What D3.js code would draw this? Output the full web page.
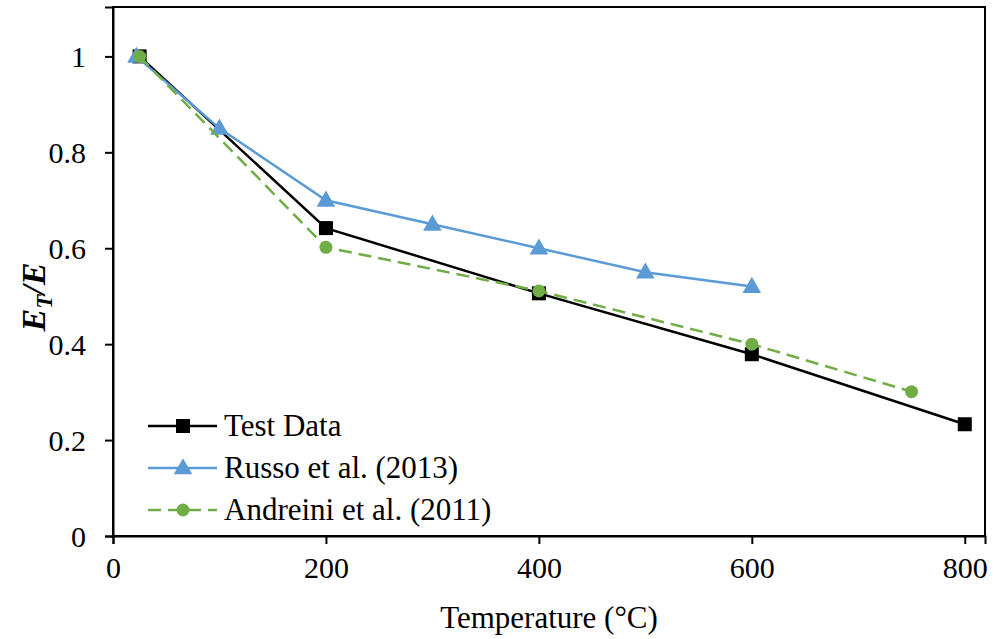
<!DOCTYPE html>
<html>
<head>
<meta charset="utf-8">
<script src="https://cdn.jsdelivr.net/npm/d3@7"></script>
<style>
  body { margin: 0; background: #fff; }
  text { font-family: "Liberation Serif", "Times New Roman", serif; fill: #000; }
</style>
</head>
<body>
<script>
/******************************************************************************/
/* DATA                                                                       */
/******************************************************************************/
var testTemps    = [25, 200, 400, 600, 800];
var testValues   = [1.0, 0.642, 0.506, 0.379, 0.233];
var russoTemps   = [22, 100, 200, 300, 400, 500, 600];
var russoValues  = [1.0, 0.85, 0.70, 0.65, 0.60, 0.55, 0.52];
var andrTemps    = [25, 200, 400, 600, 750];
var andrValues   = [1.0, 0.602, 0.511, 0.40, 0.301];
var xTicks       = [0, 200, 400, 600, 800];
var yTicks       = [0, 0.2, 0.4, 0.6, 0.8, 1];
var seriesNames  = ["Test Data", "Russo et al. (2013)", "Andreini et al. (2011)"];

/******************************************************************************/
/* GLOBAL                                                                     */
/******************************************************************************/
var width  = 994;
var height = 639;
var margin = {left: 113, right: 9, top: 7, bottom: 103};

var zip = function(xs, ys) {
  return xs.map(function(x, i) { return {x: x, y: ys[i]}; });
};

var series = [
  {name: seriesNames[0], data: zip(testTemps, testValues),   color: "#000000", dash: null,   marker: "square"},
  {name: seriesNames[1], data: zip(russoTemps, russoValues), color: "#5B9BD5", dash: null,   marker: "triangle"},
  {name: seriesNames[2], data: zip(andrTemps, andrValues),   color: "#70AD47", dash: "13,7", marker: "circle"}
];

var x = d3.scaleLinear()
  .domain([0, 819])
  .range([margin.left, width - margin.right]);
var y = d3.scaleLinear()
  .domain([0, 1.103])
  .range([height - margin.bottom, margin.top]);

var svg = d3.select("body")
  .append("svg")
  .attr("width", width)
  .attr("height", height);

// frame
svg.append("rect")
  .attr("x", x(0)).attr("y", y(1.103))
  .attr("width", x(819) - x(0))
  .attr("height", y(0) - y(1.103))
  .attr("fill", "none")
  .attr("stroke", "#000")
  .attr("stroke-width", 2);

// axes
var xAxis = svg.append("g")
  .attr("transform", "translate(0," + y(0) + ")")
  .call(d3.axisBottom(x).tickValues(xTicks).tickSize(8).tickPadding(10).tickFormat(d3.format("d")));
var yAxis = svg.append("g")
  .attr("transform", "translate(" + x(0) + ",0)")
  .call(d3.axisLeft(y).tickValues(yTicks).tickSize(8).tickPadding(19).tickFormat(function(d) { return d3.format("")(d); }));

[xAxis, yAxis].forEach(function(ax) {
  ax.attr("font-family", null).attr("font-size", null);
  ax.select(".domain").attr("stroke", "#000").attr("stroke-width", 2);
  ax.selectAll(".tick line").attr("stroke", "#000").attr("stroke-width", 2);
  ax.selectAll(".tick text")
    .style("font-family", "'Liberation Serif', 'Times New Roman', serif")
    .style("font-size", "30px")
    .attr("fill", "#000");
});
xAxis.selectAll(".tick text").attr("dy", "0.8em");
yAxis.selectAll(".tick text").attr("dy", "0.34em");

// axis titles
svg.append("text")
  .attr("x", (x(0) + x(819)) / 2)
  .attr("y", 628)
  .attr("text-anchor", "middle")
  .attr("font-size", 31)
  .text("Temperature (°C)");

var yTitle = svg.append("text")
  .attr("transform", "translate(45,297) rotate(-90)")
  .attr("text-anchor", "middle")
  .attr("font-size", 34)
  .attr("font-weight", "bold")
  .attr("font-style", "italic");
yTitle.append("tspan").text("E");
yTitle.append("tspan").attr("font-size", 23).attr("dy", 7).text("T");
yTitle.append("tspan").attr("dy", -7).text("/E");

// lines
var line = d3.line()
  .x(function(d) { return x(d.x); })
  .y(function(d) { return y(d.y); });

var drawMarker = function(g, s, cx, cy) {
  if (s.marker === "square") {
    g.append("rect")
      .attr("x", cx - 7).attr("y", cy - 7)
      .attr("width", 14).attr("height", 14)
      .attr("fill", s.color);
  } else if (s.marker === "triangle") {
    g.append("path")
      .attr("d", d3.symbol().type(d3.symbolTriangle).size(150)())
      .attr("transform", "translate(" + cx + "," + (cy + 1) + ")")
      .attr("fill", s.color);
  } else {
    g.append("circle")
      .attr("cx", cx).attr("cy", cy).attr("r", 6.5)
      .attr("fill", s.color);
  }
};

var plots = svg.selectAll("g.series")
  .data(series)
  .enter()
  .append("g")
  .attr("class", "series");

plots.append("path")
  .attr("d", function(s) { return line(s.data); })
  .attr("fill", "none")
  .attr("stroke", function(s) { return s.color; })
  .attr("stroke-width", 2.5)
  .attr("stroke-dasharray", function(s) { return s.dash; });

plots.each(function(s) {
  var g = d3.select(this);
  s.data.forEach(function(d) { drawMarker(g, s, x(d.x), y(d.y)); });
});

// legend
var legendY = [426, 468, 510];
var legend = svg.selectAll("g.legend")
  .data(series)
  .enter()
  .append("g")
  .attr("class", "legend")
  .attr("transform", function(s, i) { return "translate(0," + legendY[i] + ")"; });

legend.append("line")
  .attr("x1", 148).attr("x2", 217)
  .attr("y1", 0).attr("y2", 0)
  .attr("stroke", function(s) { return s.color; })
  .attr("stroke-width", 2.5)
  .attr("stroke-dasharray", function(s) { return s.dash; });

legend.each(function(s) { drawMarker(d3.select(this), s, 183, 0); });

legend.append("text")
  .attr("x", 224)
  .attr("dy", "0.33em")
  .attr("font-size", 31)
  .text(function(s) { return s.name; });
</script>
</body>
</html>
